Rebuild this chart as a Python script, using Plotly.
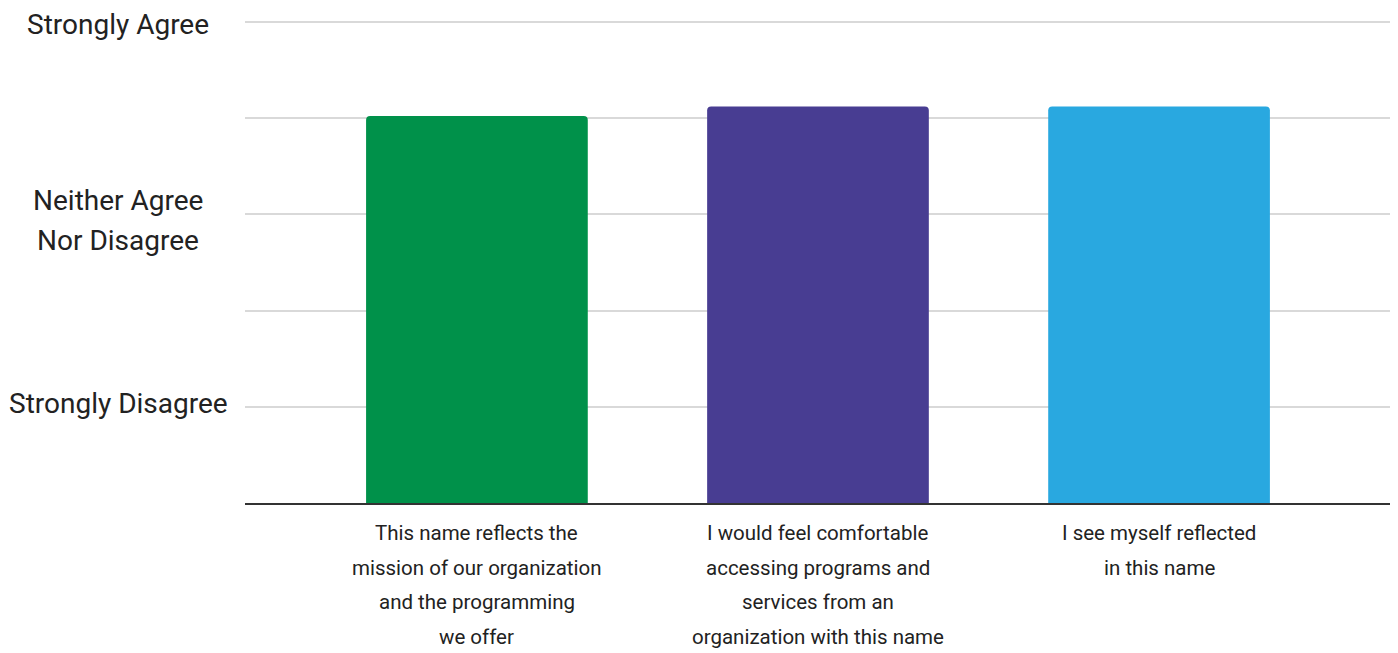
import plotly.graph_objects as go

# Data
statements = [
    "This name reflects the<br>mission of our organization<br>and the programming<br>we offer",
    "I would feel comfortable<br>accessing programs and<br>services from an<br>organization with this name",
    "I see myself reflected<br>in this name",
]
scores = [4.02, 4.12, 4.12]
bar_colors = ["#00914A", "#483D92", "#29A8E0"]

y_tickvals = [1, 3, 5]
y_ticktext = ["Strongly Disagree", "Neither Agree<br>Nor Disagree", "Strongly Agree"]

# page body has an 8px margin
W, H = 1390, 645
left, right, top, bottom = 237, 6, 9, 150
plot_w = W - left - right
label_font = dict(family="Roboto", color="#222222")
y_label_nudge = [3, -6, -3]

fig = go.Figure()

fig.add_trace(go.Bar(
    x=list(range(len(statements))),
    y=scores,
    width=0.65,
    marker=dict(color=bar_colors, line=dict(width=0), cornerradius=4),
    hoverinfo="skip",
))

# centred y-axis labels, one annotation per line to get the wider line spacing
for val, txt, nudge in zip(y_tickvals, y_ticktext, y_label_nudge):
    lines = txt.split("<br>")
    for i, line in enumerate(lines):
        fig.add_annotation(
            x=(110 - left) / plot_w, xref="paper",
            y=val, yref="y",
            yshift=(len(lines) - 1) * 20 - i * 40 + nudge,
            text=line, showarrow=False,
            xanchor="center", yanchor="middle", align="center",
            font=dict(size=28, **label_font),
        )

# category labels under the bars
for xi, txt in enumerate(statements):
    for i, line in enumerate(txt.split("<br>")):
        fig.add_annotation(
            x=xi, xref="x",
            y=0, yref="paper",
            yshift=-30 - i * 34.5,
            text=line, showarrow=False,
            xanchor="center", yanchor="middle",
            font=dict(size=20.5, **label_font),
        )

fig.update_layout(
    width=W, height=H,
    margin=dict(l=left, r=right, t=top, b=bottom),
    plot_bgcolor="white",
    paper_bgcolor="white",
    showlegend=False,
    font=label_font,
    xaxis=dict(
        range=[-0.68, 2.683],
        tickvals=list(range(len(statements))),
        showticklabels=False,
        showgrid=False,
        showline=True, linecolor="#333333", linewidth=2,
        ticks="", zeroline=False,
    ),
    yaxis=dict(
        range=[0, 5.05],
        tickvals=[0, 1, 2, 3, 4, 5],
        showticklabels=False,
        showgrid=True, gridcolor="#D9D9D9", gridwidth=1.5,
        zeroline=False, ticks="",
    ),
)

fig.write_html("out.html")
